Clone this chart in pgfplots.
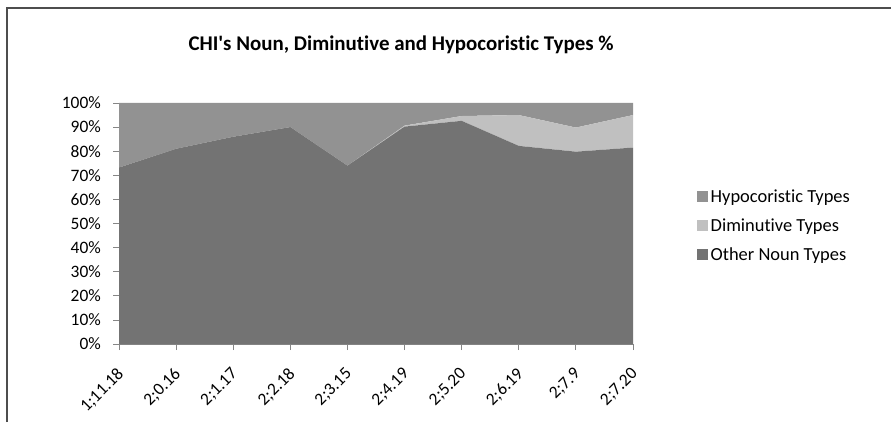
\documentclass[border=0pt]{standalone}
\usepackage{pgfplots}
\pgfplotsset{compat=1.18}
\usepackage{fontspec}
\setmainfont{Carlito}[Ligatures=NoCommon]
\definecolor{othercol}{HTML}{737373}
\definecolor{dimcol}{HTML}{C0C0C0}
\definecolor{hypcol}{HTML}{929292}
\definecolor{axiscol}{HTML}{868686}
\definecolor{framecol}{HTML}{4D4D4D}

\begin{document}
\begin{tikzpicture}[x=1bp,y=1bp]
\path[use as bounding box] (0,0) rectangle (891,422);
% chart frame (top and left edges)
\draw[framecol, line width=1.2bp] (7,0) -- (7,414) -- (891,414);
\node[font=\fontsize{21}{25}\selectfont\bfseries, anchor=base] at (401,372)
  {CHI\textquotesingle s Noun, Diminutive and Hypocoristic Types \%};
\begin{axis}[
  at={(119bp,78bp)}, anchor=south west,
  scale only axis, width=514bp, height=241bp,
  xmin=0, xmax=9, ymin=0, ymax=100,
  stack plots=y,
  axis lines*=left,
  axis line style={axiscol, line width=0.8bp},
  tick style={axiscol, line width=0.8bp},
  major tick length=6bp, tick align=outside,
  xtick={0,...,9},
  xticklabels={1;11.18,2;0.16,2;1.17,2;2.18,2;3.15,2;4.19,2;5.20,2;6.19,2;7.9,2;7.20},
  ytick={0,10,...,100},
  yticklabels={0\%,10\%,20\%,30\%,40\%,50\%,60\%,70\%,80\%,90\%,100\%},
  tick label style={font=\fontsize{17.5}{21}\selectfont, black},
  xticklabel style={anchor=north east, inner sep=1bp, xshift=-3bp, yshift=-15bp, rotate=45},
  yticklabel style={inner sep=1bp, xshift=-11bp},
  reverse legend,
  legend cell align=left,
  legend style={at={(1.1245,0.49)}, anchor=west, draw=none, fill=none,
    font=\fontsize{18.5}{22}\selectfont, row sep=9.5bp, inner sep=0pt,
    nodes={inner sep=2.5bp}},
  legend image code/.code={\fill[#1] (0bp,-5bp) rectangle (11bp,6bp);},
]
% Other Noun Types
\addplot[fill=othercol, draw=none] coordinates {
  (0,73.2) (1,81.0) (2,86.0) (3,90.0) (4,74.0)
  (5,90.2) (6,92.6) (7,82.2) (8,79.8) (9,81.5)} \closedcycle;
\addlegendentry{Other Noun Types}
% Diminutive Types
\addplot[fill=dimcol, draw=none] coordinates {
  (0,0) (1,0) (2,0) (3,0) (4,0)
  (5,0.4) (6,2.0) (7,12.8) (8,10.0) (9,13.5)} \closedcycle;
\addlegendentry{Diminutive Types}
% Hypocoristic Types
\addplot[fill=hypcol, draw=none] coordinates {
  (0,26.8) (1,19.0) (2,14.0) (3,10.0) (4,26.0)
  (5,9.4) (6,5.4) (7,5.0) (8,10.2) (9,5.0)} \closedcycle;
\addlegendentry{Hypocoristic Types}
\end{axis}
\end{tikzpicture}
\end{document}
